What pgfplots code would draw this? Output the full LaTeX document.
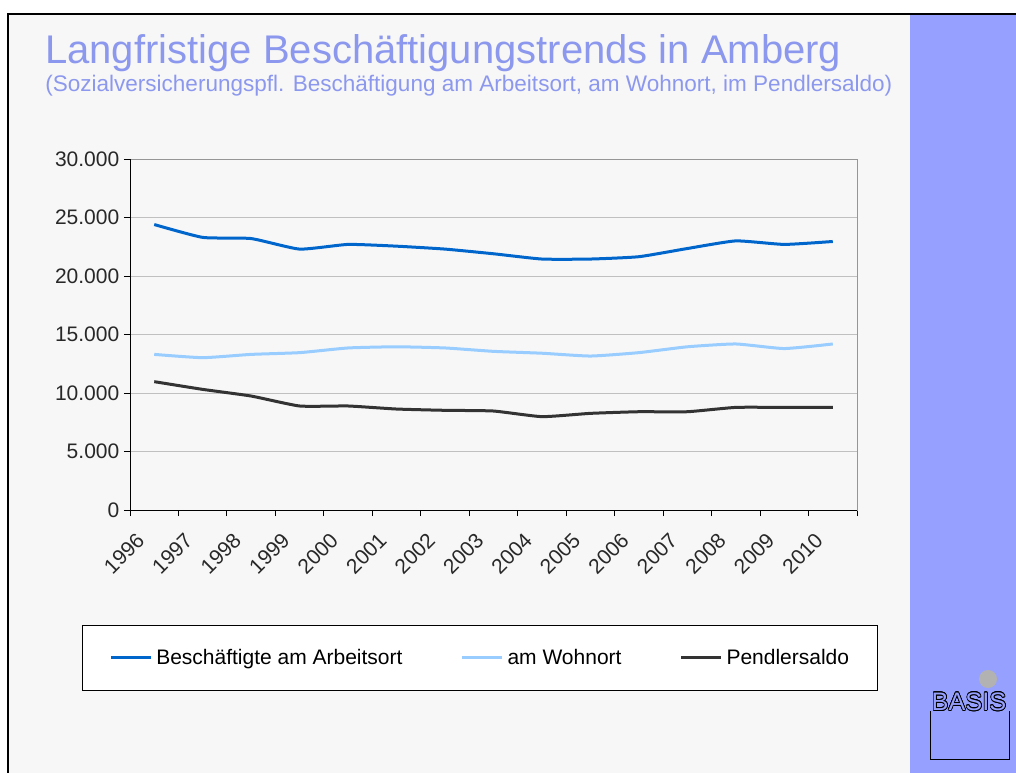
\documentclass[border=0pt]{standalone}
\usepackage{pgfplots}
\pgfplotsset{compat=1.18}
\usepackage{fontspec}
\setmainfont{Liberation Sans}
\usepackage{contour}
\contourlength{0.5pt}
\definecolor{bg}{RGB}{247,247,247}
\definecolor{strip}{RGB}{149,160,255}
\definecolor{titlecol}{RGB}{140,152,238}
\definecolor{arbeit}{RGB}{0,102,204}
\definecolor{wohn}{RGB}{153,204,255}
\definecolor{saldo}{RGB}{51,51,51}
\definecolor{gridgray}{RGB}{192,192,192}
\definecolor{axgray}{RGB}{150,150,150}
\definecolor{tickcol}{RGB}{40,40,40}

\begin{document}
\begin{tikzpicture}
% slide background, in image pixels
\begin{scope}[x=0.75pt,y=-0.75pt]
  \path[use as bounding box] (0,0) rectangle (1016,773);
  \fill[white] (0,0) rectangle (1016,773);
  \fill[bg] (8,14) rectangle (1016,773);
  \fill[strip] (910,14) rectangle (1016,773);
  \draw[black, line width=1.5pt] (8,773) -- (8,14) -- (1016,14);
  \node[anchor=base west, inner sep=0pt, text=titlecol, font=\fontsize{30}{36}\selectfont]
    at (45,64) {Langfristige Beschäftigungstrends in Amberg};
  \node[anchor=base west, inner sep=0pt, text=titlecol, font=\fontsize{16.9}{20}\selectfont]
    at (45,92) {(Sozialversicherungspfl. Beschäftigung am Arbeitsort, am Wohnort, im Pendlersaldo)};
  % legend frame
  \draw[fill=white, line width=0.75pt] (82,625) rectangle (877,690);
  % logo
  \fill[gray!60] (988,679) circle (9);
  \draw[line width=0.75pt] (930,711) -- (930,759) -- (1009,759) -- (1009,711);
  \node[inner sep=0pt, font=\fontsize{19}{20}\selectfont] at (969,702) {\contour{black}{\textcolor{strip}{BASIS}}};
\end{scope}

\begin{axis}[
  at={(97.5pt,-382.5pt)}, anchor=south west,
  scale only axis, width=545.25pt, height=263.25pt,
  xmin=0, xmax=15, ymin=0, ymax=30000,
  xtick={0.5,1.5,...,14.5},
  xticklabels={1996,1997,1998,1999,2000,2001,2002,2003,2004,2005,2006,2007,2008,2009,2010},
  ytick={0,5000,...,30000},
  minor xtick={0,1,...,15}, minor ytick={0,5000,...,30000},
  major tick length=0pt, minor tick length=4.5pt, tick align=outside, tick pos=left,
  minor tick style={black, line width=0.75pt},
  ymajorgrids, grid style={gridgray, line width=0.75pt},
  axis line style={axgray, line width=0.75pt},
  scaled y ticks=false,
  /pgf/number format/.cd, 1000 sep={.}, assume math mode=true, /pgfplots/.cd,
  tick label style={font=\fontsize{15.75}{18}\selectfont, text=tickcol},
  yticklabel style={xshift=-4.5pt},
  xticklabel style={xshift=-14.3pt, yshift=-11.3pt, rotate=45, anchor=north east},
  legend style={at={(-0.0289,-0.4202)}, anchor=west, draw=none, fill=none,
    inner sep=0pt, legend columns=3, font=\fontsize{15.75}{18}\selectfont,
    nodes={inner sep=0pt},
    /tikz/every odd column/.append style={column sep=3pt},
    /tikz/every even column/.append style={column sep=43.5pt}},
  legend image code/.code={\draw[#1] (0pt,0pt) -- (30pt,0pt);},
]
\addplot[arbeit, line width=2.25pt, smooth, tension=0.3] coordinates {
  (0.5,24400) (1.5,23300) (2.5,23200) (3.5,22300) (4.5,22700) (5.5,22550) (6.5,22300)
  (7.5,21900) (8.5,21450) (9.5,21450) (10.5,21650) (11.5,22350) (12.5,23000) (13.5,22700) (14.5,22950)
};
\addlegendentry{Beschäftigte am Arbeitsort}
\addplot[wohn, line width=2.25pt, smooth, tension=0.3] coordinates {
  (0.5,13300) (1.5,13020) (2.5,13300) (3.5,13450) (4.5,13850) (5.5,13950) (6.5,13850)
  (7.5,13560) (8.5,13400) (9.5,13160) (10.5,13450) (11.5,13950) (12.5,14190) (13.5,13800) (14.5,14190)
};
\addlegendentry{am Wohnort}
\addplot[saldo, line width=2.25pt, smooth, tension=0.3] coordinates {
  (0.5,10970) (1.5,10310) (2.5,9740) (3.5,8890) (4.5,8890) (5.5,8630) (6.5,8520)
  (7.5,8460) (8.5,7980) (9.5,8260) (10.5,8400) (11.5,8400) (12.5,8770) (13.5,8770) (14.5,8770)
};
\addlegendentry{Pendlersaldo}
\draw[black, line width=0.75pt] (rel axis cs:0,1) -- (rel axis cs:0,0) -- (rel axis cs:1,0);
\end{axis}
\end{tikzpicture}
\end{document}
